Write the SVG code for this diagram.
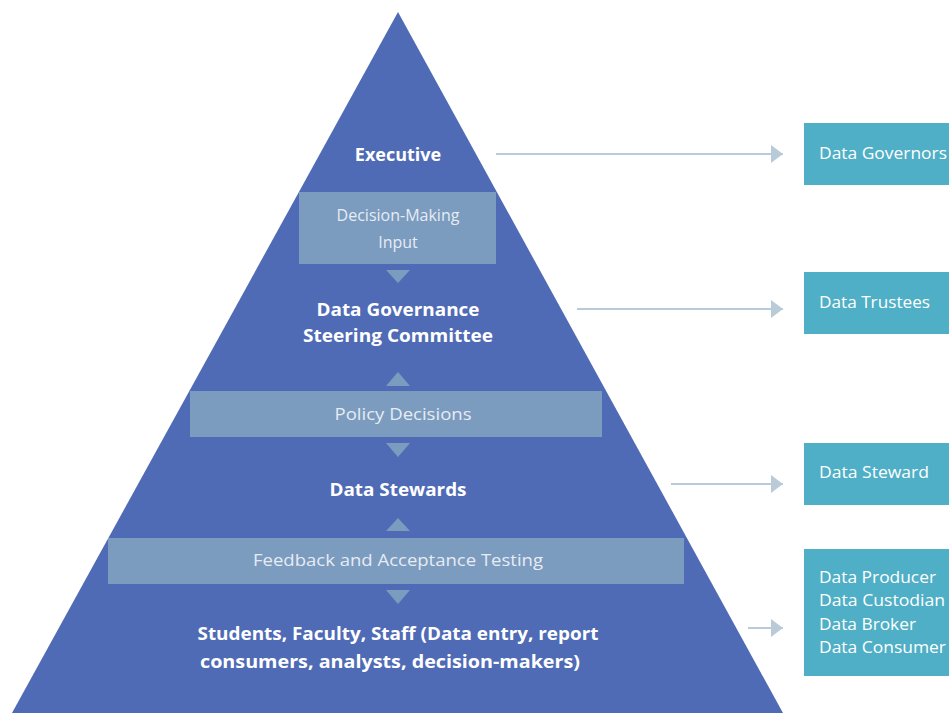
<svg xmlns="http://www.w3.org/2000/svg" width="949" height="713" viewBox="0 0 949 713">
<defs>
<style>
.tier{font-family:"Open Sans","Liberation Sans",sans-serif;font-weight:bold;font-size:18px;fill:#ffffff;text-anchor:middle}
.flow{font-family:"Open Sans","Liberation Sans",sans-serif;font-size:16px;fill:#e6ecf4;text-anchor:middle}
.role{font-family:"Open Sans","Liberation Sans",sans-serif;font-size:16px;fill:#ffffff}
.band{fill:#7b9bbf}
.tri{fill:#7b9bbf}
.rbox{fill:#4fafc6}
.conn{stroke:#b9cad8;stroke-width:2;fill:none}
</style>
<marker id="ah" viewBox="0 0 12 18" refX="12" refY="9" markerWidth="12" markerHeight="18" markerUnits="userSpaceOnUse" orient="auto">
<path d="M0,0 L12,9 L0,18 Z" fill="#b9cad8"/>
</marker>
</defs>
<rect width="949" height="713" fill="#ffffff"/>
<g id="pyramid">
<polygon points="398,12 783,713 12,713" fill="#4f6bb5"/>
</g>
<g id="executive"><text class="tier" x="398" y="161">Executive</text></g>
<g id="decision-making-input">
<rect class="band" x="299" y="192" width="197" height="72"/>
<text class="flow" x="398" y="221">Decision-Making</text>
<text class="flow" x="398" y="248">Input</text>
<polygon class="tri" points="386,270 410,270 398,283"/>
</g>
<g id="steering-committee">
<text class="tier" x="398" y="316" textLength="163" lengthAdjust="spacingAndGlyphs">Data Governance</text>
<text class="tier" x="398" y="342" textLength="190" lengthAdjust="spacingAndGlyphs">Steering Committee</text>
</g>
<g id="policy-decisions">
<polygon class="tri" points="386,386 410,386 398,372"/>
<rect class="band" x="190" y="391" width="412" height="46"/>
<text class="flow" x="403" y="420" textLength="137" lengthAdjust="spacingAndGlyphs">Policy Decisions</text>
<polygon class="tri" points="386,443 410,443 398,457"/>
</g>
<g id="data-stewards"><text class="tier" x="398" y="496" textLength="137" lengthAdjust="spacingAndGlyphs">Data Stewards</text></g>
<g id="feedback">
<polygon class="tri" points="386,531 410,531 398,518"/>
<rect class="band" x="108" y="538" width="576" height="46"/>
<text class="flow" x="398" y="566" textLength="290" lengthAdjust="spacingAndGlyphs">Feedback and Acceptance Testing</text>
<polygon class="tri" points="386,590 410,590 398,604"/>
</g>
<g id="users">
<text class="tier" x="398" y="640" font-weight="600" textLength="401" lengthAdjust="spacingAndGlyphs">Students, Faculty, Staff (Data entry, report</text>
<text class="tier" x="390" y="668" font-weight="600" textLength="380" lengthAdjust="spacingAndGlyphs">consumers, analysts, decision-makers)</text>
</g>
<g id="data-governors">
<rect class="rbox" x="804" y="123" width="145" height="62"/>
<text class="role" x="819" y="159" textLength="128" lengthAdjust="spacingAndGlyphs">Data Governors</text>
</g>
<g id="data-trustees">
<rect class="rbox" x="804" y="272" width="145" height="62"/>
<text class="role" x="819" y="308" textLength="111" lengthAdjust="spacingAndGlyphs">Data Trustees</text>
</g>
<g id="data-steward">
<rect class="rbox" x="804" y="443" width="145" height="62"/>
<text class="role" x="819" y="478" textLength="110" lengthAdjust="spacingAndGlyphs">Data Steward</text>
</g>
<g id="data-roles">
<rect class="rbox" x="804" y="549" width="145" height="127"/>
<text class="role" x="819" y="583" textLength="117" lengthAdjust="spacingAndGlyphs">Data Producer</text>
<text class="role" x="819" y="606" textLength="126" lengthAdjust="spacingAndGlyphs">Data Custodian</text>
<text class="role" x="819" y="630" textLength="97" lengthAdjust="spacingAndGlyphs">Data Broker</text>
<text class="role" x="819" y="653" textLength="127" lengthAdjust="spacingAndGlyphs">Data Consumer</text>
</g>
<g id="connectors">
<line class="conn" x1="496" y1="154" x2="783" y2="154" marker-end="url(#ah)"/>
<line class="conn" x1="577" y1="309" x2="783" y2="309" marker-end="url(#ah)"/>
<line class="conn" x1="671" y1="484" x2="783" y2="484" marker-end="url(#ah)"/>
<line class="conn" x1="748" y1="628" x2="783" y2="628" marker-end="url(#ah)"/>
</g>
</svg>
